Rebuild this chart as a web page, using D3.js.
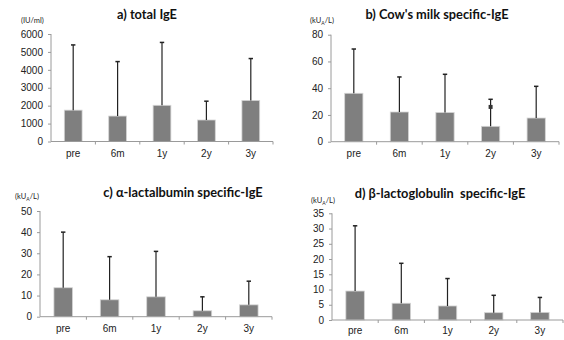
<!DOCTYPE html>
<html>
<head>
<meta charset="utf-8">
<script src="https://cdn.jsdelivr.net/npm/d3@7"></script>
<style>
  body { margin: 0; background: #fff; }
  svg { display: block; font-family: Lato, "Liberation Sans", sans-serif; }
  .axis path, .axis line { stroke: #9a9a9a; }
  .axis text { fill: #222; font-size: 10px; }
  .title { font-weight: bold; font-size: 12.8px; fill: #111; white-space: pre; }
  .unit { font-size: 7.5px; fill: #222; }
</style>
</head>
<body>
<div id="chart"></div>
<script>
const categories = ['pre', '6m', '1y', '2y', '3y'];

// a) total IgE (IU/ml)
const totalMean = [1750, 1420, 2020, 1200, 2290];
const totalUpper = [5390, 4460, 5530, 2250, 4630];
// b) cow's milk sIgE
const milkMean = [36.2, 22.2, 21.8, 11.5, 17.7];
const milkUpper = [69.3, 48.4, 50.4, 31.7, 41.4];
const milkMarker = [null, null, null, 26, null];
// c) alpha-lactalbumin sIgE
const alaMean = [13.7, 8.0, 9.4, 2.8, 5.6];
const alaUpper = [40.0, 28.4, 30.9, 9.4, 16.8];
// d) beta-lactoglobulin sIgE
const blgMean = [9.5, 5.5, 4.6, 2.4, 2.5];
const blgUpper = [30.9, 18.6, 13.6, 8.1, 7.4];

const yTicksA = [0, 1000, 2000, 3000, 4000, 5000, 6000];
const yTicksB = [0, 20, 40, 60, 80];
const yTicksC = [0, 10, 20, 30, 40, 50];
const yTicksD = [0, 5, 10, 15, 20, 25, 30, 35];

const svg = d3.select('#chart').append('svg')
  .attr('width', 564)
  .attr('height', 340);

function drawPanel(p) {
  const x = d3.scaleBand()
    .domain(categories)
    .range([p.x0, p.x1])
    .paddingInner(0.6)
    .paddingOuter(0.3);
  const y = d3.scaleLinear()
    .domain([0, p.ticks[p.ticks.length - 1]])
    .range([p.y0, p.y1]);

  const g = svg.append('g');

  // bars
  g.selectAll('.bar')
    .data(p.mean)
    .join('rect')
    .attr('class', 'bar')
    .attr('x', (d, i) => x(categories[i]))
    .attr('width', x.bandwidth())
    .attr('y', d => y(d))
    .attr('height', d => y(0) - y(d))
    .attr('fill', '#7f7f7f')
    .attr('stroke', '#d4d4d4')
    .attr('stroke-width', 0.8);

  // error bars (upper only)
  const cx = i => x(categories[i]) + x.bandwidth() / 2;
  g.selectAll('.err')
    .data(p.upper)
    .join('line')
    .attr('class', 'err')
    .attr('x1', (d, i) => cx(i))
    .attr('x2', (d, i) => cx(i))
    .attr('y1', (d, i) => y(p.mean[i]))
    .attr('y2', d => y(d))
    .attr('stroke', '#222')
    .attr('stroke-width', 1.2);
  g.selectAll('.cap')
    .data(p.upper)
    .join('line')
    .attr('class', 'cap')
    .attr('x1', (d, i) => cx(i) - 2.2)
    .attr('x2', (d, i) => cx(i) + 2.2)
    .attr('y1', d => y(d))
    .attr('y2', d => y(d))
    .attr('stroke', '#222')
    .attr('stroke-width', 1.5);

  if (p.marker) {
    p.marker.forEach((m, i) => {
      if (m == null) return;
      g.append('rect')
        .attr('x', cx(i) - 2)
        .attr('y', y(m) - 2)
        .attr('width', 4)
        .attr('height', 4)
        .attr('fill', '#333');
    });
  }

  // y axis
  g.append('g')
    .attr('class', 'axis')
    .attr('transform', `translate(${p.x0},0)`)
    .call(d3.axisLeft(y).tickValues(p.ticks).tickFormat(d3.format('d'))
      .tickSize(3).tickSizeOuter(0).tickPadding(5))
    .call(a => a.select('.domain').attr('d', `M0,${p.y0}V${p.y1}`));

  // x axis with ticks at band boundaries
  const xa = g.append('g')
    .attr('class', 'axis')
    .attr('transform', `translate(0,${p.y0})`)
    .call(d3.axisBottom(x).tickSize(0).tickPadding(p.labelPad));
  xa.select('.domain').attr('d', `M${p.x0},0H${p.x1}`);
  const step = x.step();
  const bounds = d3.range(1, categories.length).map(i => x(categories[i]) - step * 0.3);
  bounds.push(p.x1);
  xa.selectAll('.bound')
    .data(bounds)
    .join('line')
    .attr('class', 'bound')
    .attr('x1', d => d).attr('x2', d => d)
    .attr('y1', 0).attr('y2', 3);

  // titles
  svg.append('text')
    .attr('class', 'title')
    .attr('x', p.tx)
    .attr('y', p.ty)
    .attr('text-anchor', 'middle')
    .text(p.title);

  const u = svg.append('text')
    .attr('class', 'unit')
    .attr('x', p.ux)
    .attr('y', p.uy);
  if (p.unit === 'IU') {
    u.text('(IU/ml)');
  } else {
    u.append('tspan').text('(kU');
    u.append('tspan').attr('font-size', '5px').attr('dy', 2).text('A');
    u.append('tspan').attr('dy', -2).text('/L)');
  }
}

drawPanel({
  mean: totalMean, upper: totalUpper, ticks: yTicksA,
  x0: 51, x1: 273, y0: 141.5, y1: 34,
  title: 'a) total IgE', tx: 147, ty: 19,
  unit: 'IU', ux: 21, uy: 23, labelPad: 8
});
drawPanel({
  mean: milkMean, upper: milkUpper, ticks: yTicksB, marker: milkMarker,
  x0: 331, x1: 559, y0: 141.7, y1: 34.7,
  title: "b) Cow's milk specific-IgE", tx: 437, ty: 19,
  unit: 'kU', ux: 310, uy: 23, labelPad: 8
});
drawPanel({
  mean: alaMean, upper: alaUpper, ticks: yTicksC,
  x0: 40, x1: 272, y0: 316.7, y1: 211,
  title: 'c) \u03b1-lactalbumin specific-IgE', tx: 183, ty: 197,
  unit: 'kU', ux: 15, uy: 199, labelPad: 8
});
drawPanel({
  mean: blgMean, upper: blgUpper, ticks: yTicksD,
  x0: 332, x1: 563, y0: 320, y1: 213.3,
  title: 'd) \u03b2-lactoglobulin  specific-IgE', tx: 440, ty: 198,
  unit: 'kU', ux: 311, uy: 203, labelPad: 7
});
</script>
</body>
</html>
